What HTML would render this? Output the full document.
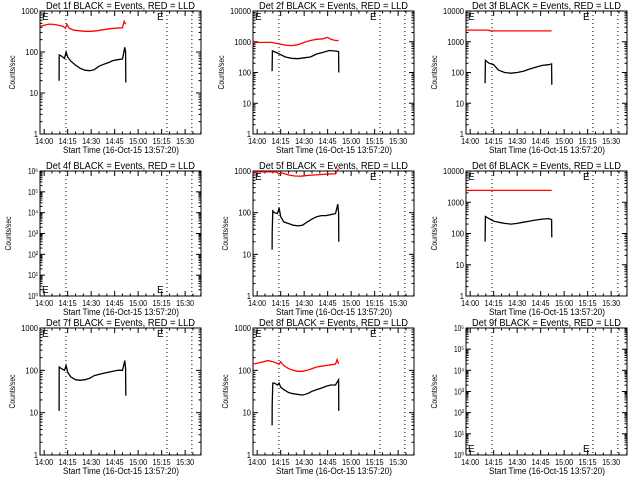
<!DOCTYPE html>
<html><head><meta charset="utf-8"><style>
body{margin:0;background:#fff;}
svg{display:block;font-family:"Liberation Sans",sans-serif;}
</style></head><body>
<svg id="chart" width="640" height="480" viewBox="0 0 640 480" xmlns="http://www.w3.org/2000/svg">
<rect width="640" height="480" fill="#fff"/>
</svg>
<script>
// time in minutes relative to 14:00
const xTickLabels = ["14:00","14:15","14:30","14:45","15:00","15:15","15:30"];
const xTickMinutes = [0,15,30,45,60,75,90];
const dottedMinutes = [13.9,78.4,94.3];
const detNames = ["1f","2f","3f","4f","5f","6f","7f","8f","9f"];
const decades = [3,4,4,6,3,4,3,3,6];

const blackT1 = [9.5,9.6,11,13,14,15,17,20,23,26,29,32,35,38,41,44,47,50,51.5,52,52.1];
const blackV1 = [20,85,80,70,100,75,60,48,40,36,35,37,45,50,55,62,65,68,130,100,18];
const redT1 = [-2.7,0,3,6,9,12,13.5,14.5,16,19,22,26,30,34,38,42,46,50,51,52];
const redV1 = [420,450,480,470,450,420,380,470,380,340,330,320,320,330,350,370,380,390,560,480];

const blackT2 = [9.5,9.7,12,15,18,22,26,30,34,38,42,46,50,52,52.1];
const blackV2 = [110,500,450,380,320,290,280,300,320,400,450,520,500,480,100];
const redT2 = [-2.7,3,9,14,18,22,26,30,34,38,42,45,47,50,52];
const redV2 = [950,950,950,850,780,750,800,950,1100,1200,1250,1400,1200,1100,1100];

const blackT3 = [9.5,9.7,12,15,18,22,26,30,34,38,42,46,50,52,52.1];
const blackV3 = [45,250,200,180,120,100,95,100,110,130,150,170,180,190,40];
const redT3 = [-2.7,12,12.5,52];
const redV3 = [2400,2400,2250,2250];

const blackT5 = [9.5,9.6,10,11,13,14,15,17,20,23,26,29,32,35,38,41,44,47,50,51.5,52,52.1];
const blackV5 = [13,35,110,100,95,130,80,60,55,50,48,50,60,70,80,85,85,90,95,160,100,20];
const redT5 = [-2.7,6,12,14,16,20,24,28,32,36,40,44,48,50,51.5,52];
const redV5 = [950,950,950,850,900,800,760,750,780,800,820,840,850,850,1100,1100];

const blackT6 = [9.5,9.7,12,15,18,22,26,30,34,38,42,46,50,52,52.1];
const blackV6 = [55,350,300,250,230,210,200,210,230,250,270,290,300,280,75];
const redT6 = [-2.7,52];
const redV6 = [2400,2400];

const blackT7 = [9.5,9.6,11,13,14,15,17,20,23,26,29,32,35,38,41,44,47,50,51.5,52,52.1];
const blackV7 = [11,120,110,100,130,90,70,60,58,60,65,75,80,85,90,95,100,100,170,110,25];

const blackT8 = [9.5,9.6,10,11,13,14,15,17,20,23,26,29,32,35,38,41,44,47,50,52,52.1];
const blackV8 = [5,16,50,50,45,50,40,35,30,28,27,26,28,32,35,38,42,45,45,60,11];
const redT8 = [-2.7,1,4,7,10,12,14,15,17,20,23,26,29,32,35,38,41,44,47,50,51,52];
const redV8 = [140,150,160,170,160,150,140,160,130,110,100,95,95,100,110,120,125,130,135,140,180,140];

const blackSeries = [[blackT1,blackV1],[blackT2,blackV2],[blackT3,blackV3],null,[blackT5,blackV5],[blackT6,blackV6],[blackT7,blackV7],[blackT8,blackV8],null];
const redSeries = [[redT1,redV1],[redT2,redV2],[redT3,redV3],null,[redT5,redV5],[redT6,redV6],null,[redT8,redV8],null];

const svg = document.getElementById('chart');
const NS = 'http://www.w3.org/2000/svg';
function mk(tag, attrs, parent){
  const e = document.createElementNS(NS, tag);
  for (const k in attrs) e.setAttribute(k, attrs[k]);
  parent.appendChild(e);
  return e;
}
const rowTop = [11,171,328];
const rowBot = [134,296,455];
const sup = ['⁰','¹','²','³','⁴','⁵','⁶'];

for (let p = 0; p < 9; p++) {
  const col = p % 3, row = Math.floor(p / 3);
  const ox = col * 213;
  const L = ox + 40, R = ox + 201, T = rowTop[row], B = rowBot[row];
  const nd = decades[p];
  const g = mk('g', {}, svg);
  
  
  const xs = t => L + (t + 2.667) * (R - L) / 102.8;
  const ys = v => B - Math.log10(v) / nd * (B - T);

  const title = mk('text', {x: ox + 46, y: T - 2, 'font-size': 10.5, textLength: 149, lengthAdjust: 'spacingAndGlyphs'}, g);
  title.textContent = 'Det ' + detNames[p] + ' BLACK = Events, RED = LLD';
  
  

  const frame = mk('rect', {x: L, y: T, width: R - L, height: B - T, fill: 'none', stroke: '#000', 'stroke-width': 1}, g);
  
  

  for (let d = 0; d <= nd; d++) {
    const y = ys(Math.pow(10, d));
    mk('line', {x1: L, x2: L + 5, y1: y, y2: y, stroke: '#000'}, g);
    mk('line', {x1: R, x2: R - 5, y1: y, y2: y, stroke: '#000'}, g);
    const txt = nd === 6 ? ('10' + sup[d]) : String(Math.pow(10, d));
    const w = nd === 6 ? 10 : txt.length * 4.2;
    const lab = mk('text', {x: L - 2 - w, y: y + 3, 'font-size': 8.5, textLength: w, lengthAdjust: 'spacingAndGlyphs'}, g);
    lab.textContent = txt;
    
    
    if (d < nd) {
      for (let m = 2; m < 10; m++) {
        const ym = ys(m * Math.pow(10, d));
        mk('line', {x1: L, x2: L + 2.5, y1: ym, y2: ym, stroke: '#000'}, g);
        mk('line', {x1: R, x2: R - 2.5, y1: ym, y2: ym, stroke: '#000'}, g);
      }
    }
  }
  for (let i = 0; i < xTickMinutes.length; i++) {
    const x = xs(xTickMinutes[i]);
    mk('line', {x1: x, x2: x, y1: B, y2: B - 5, stroke: '#000'}, g);
    mk('line', {x1: x, x2: x, y1: T, y2: T + 5, stroke: '#000'}, g);
    const lab = mk('text', {x: x - 9, y: B + 10, 'font-size': 8.5, textLength: 18, lengthAdjust: 'spacingAndGlyphs'}, g);
    lab.textContent = xTickLabels[i];
    
    
  }
  for (let t = 0; t <= 100; t += 5) {
    if (t % 15 === 0) continue;
    const x = xs(t);
    mk('line', {x1: x, x2: x, y1: B, y2: B - 2.5, stroke: '#000'}, g);
    mk('line', {x1: x, x2: x, y1: T, y2: T + 2.5, stroke: '#000'}, g);
  }
  const xl = mk('text', {x: ox + 63, y: B + 19, 'font-size': 9, textLength: 116, lengthAdjust: 'spacingAndGlyphs'}, g);
  xl.textContent = 'Start Time (16-Oct-15 13:57:20)';
  
  
  const yc = (T + B) / 2;
  const yx = ox + (nd === 3 ? 15 : 11);
  const yl = mk('text', {x: yx - 17, y: yc, 'font-size': 8, textLength: 34, lengthAdjust: 'spacingAndGlyphs', transform: 'rotate(-90 ' + yx + ' ' + yc + ')'}, g);
  yl.textContent = 'Counts/sec';
  
  

  for (const m of dottedMinutes) {
    const dl = mk('line', {x1: xs(m), x2: xs(m), y1: T, y2: B, stroke: '#000', 'stroke-dasharray': '1 3'}, g);
    
    
  }
  const ey = nd === 6 ? B - 7 : T + 5;
  for (const ex of [L + 2, xs(72)]) {
    const e = mk('text', {x: ex, y: ey + 4, 'font-size': 10, 'font-weight': 'normal'}, g);
    e.textContent = 'E';
    
    
  }
  const rs = redSeries[p], bs = blackSeries[p];
  if (rs) {
    const pts = rs[0].map((t, i) => xs(t).toFixed(1) + ',' + ys(rs[1][i]).toFixed(1)).join(' ');
    const pl = mk('polyline', {points: pts, fill: 'none', stroke: '#ff0000', 'stroke-width': 1.3}, g);
    
    
  }
  if (bs) {
    const pts = bs[0].map((t, i) => xs(t).toFixed(1) + ',' + ys(bs[1][i]).toFixed(1)).join(' ');
    const pl = mk('polyline', {points: pts, fill: 'none', stroke: '#000', 'stroke-width': 1.3}, g);
    
    
  }
}
</script>
</body></html>
